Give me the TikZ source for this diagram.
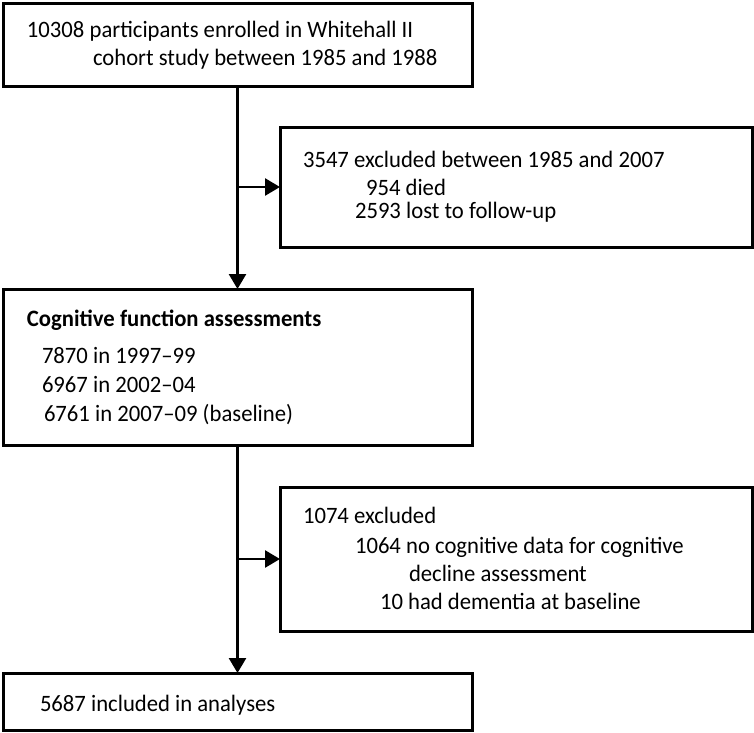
\documentclass[tikz,border=0pt]{standalone}
\usepackage{fontspec}
\setmainfont[FakeStretch=0.965]{Carlito}
\usetikzlibrary{arrows.meta}
\tikzset{
  boxnode/.style={draw=black, line width=3pt, fill=white, anchor=north west, inner sep=0pt, outer sep=0pt},
  txt/.style={anchor=base west, inner sep=0pt, outer sep=0pt, font=\fontsize{23.5}{28}\selectfont},
  btxt/.style={txt, font=\fontsize{23.5}{28}\selectfont\bfseries},
  conn/.style={draw=black, line width=2.6pt, -{Triangle[length=15pt, width=17pt]}}
}
\begin{document}
\begin{tikzpicture}[x=1pt, y=-1pt]
\useasboundingbox (0,0) rectangle (754,732);
% boxes
\node[boxnode, minimum width=469pt, minimum height=83pt] (b1) at (3,3) {};
\node[boxnode, minimum width=472pt, minimum height=120pt] (e1) at (280,127) {};
\node[boxnode, minimum width=469pt, minimum height=156pt] (b2) at (3,289) {};
\node[boxnode, minimum width=472pt, minimum height=144pt] (e2) at (280,487) {};
\node[boxnode, minimum width=469pt, minimum height=57pt] (b3) at (3,673) {};
% texts
\node[txt] (t1a) at (27,37) {10308 participants enrolled in Whitehall II};
\node[txt] (t1b) at (93,65) {cohort study between 1985 and 1988};
\node[txt] (te1a) at (303,167) {3547 excluded between 1985 and 2007};
\node[txt] (te1b) at (366,195) {954 died};
\node[txt] (te1c) at (355,218) {2593 lost to follow-up};
\node[btxt] (t2a) at (27,326) {Cognitive function assessments};
\node[txt] (t2b) at (42,363) {7870 in 1997–99};
\node[txt] (t2c) at (42,392) {6967 in 2002–04};
\node[txt] (t2d) at (44,421) {6761 in 2007–09 (baseline)};
\node[txt] (te2a) at (303,523) {1074 excluded};
\node[txt] (te2b) at (355,553) {1064 no cognitive data for cognitive};
\node[txt] (te2c) at (409,581) {decline assessment};
\node[txt] (te2d) at (380,609) {10 had dementia at baseline};
\node[txt] (t3a) at (40,711) {5687 included in analyses};
% connectors
\draw[conn] (b1.south) -- (b2.north);
\draw[conn] (e1.west -| b1.south) -- (e1.west);
\draw[conn] (b2.south) -- (b3.north);
\draw[conn] (e2.west -| b2.south) -- (e2.west);
\end{tikzpicture}
\end{document}
